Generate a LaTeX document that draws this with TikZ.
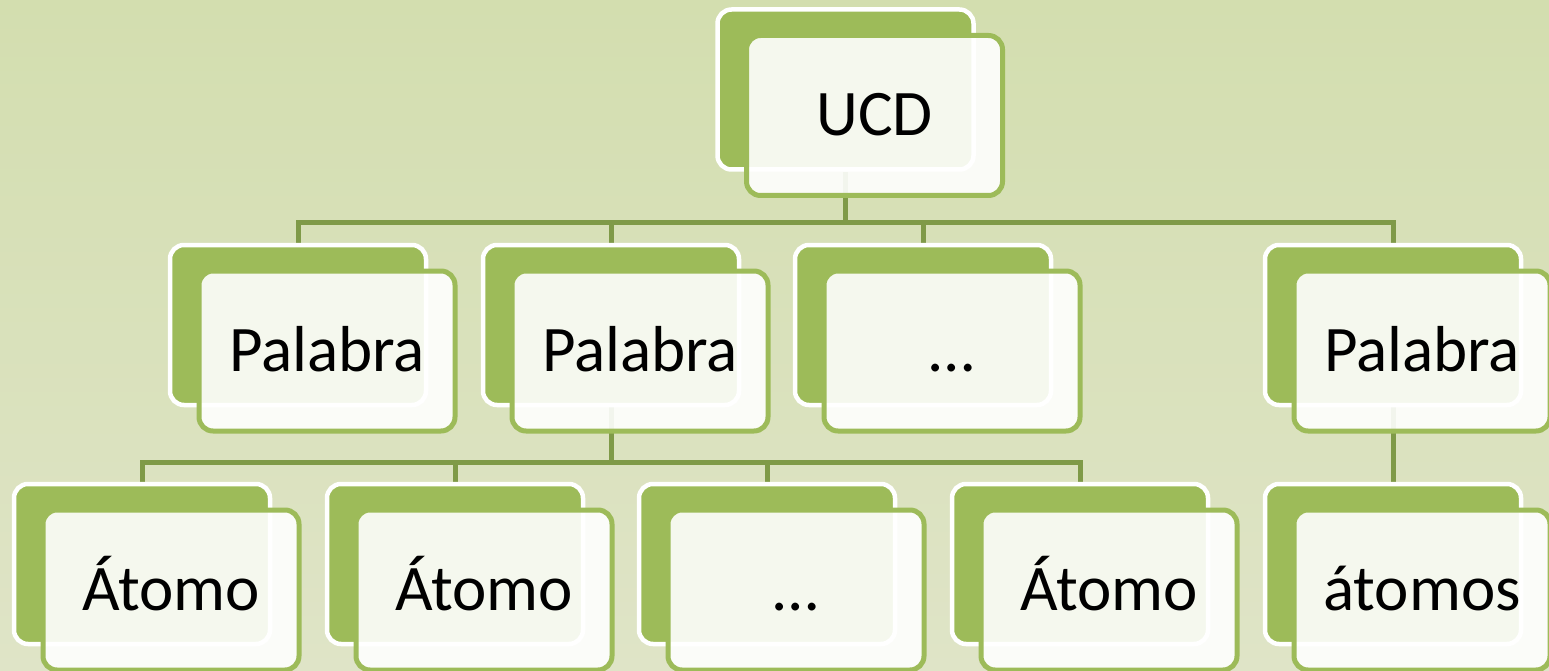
\documentclass[tikz,border=0pt]{standalone}
\usepackage{fontspec}
\setmainfont{Carlito}
\usetikzlibrary{calc}

\definecolor{bgtop}{RGB}{211,222,175}
\definecolor{bgbot}{RGB}{223,228,199}
\definecolor{leaf}{RGB}{157,187,89}
\definecolor{linkc}{RGB}{127,154,72}

\pgfdeclarelayer{canvas}
\pgfdeclarelayer{links}
\pgfsetlayers{canvas,links,main}

\tikzset{
  backbox/.style={draw=white, line width=4.5pt, fill=leaf, rounded corners=14pt,
    minimum width=256pt, minimum height=160pt, inner sep=0pt},
  frontbox/.style={draw=leaf, line width=5pt, fill=white, fill opacity=0.9,
    text opacity=1, rounded corners=14pt, minimum width=256pt,
    minimum height=160pt, inner sep=0pt,
    font=\fontsize{65}{72}\selectfont, text height=41pt, text depth=0pt},
  link/.style={draw=linkc, line width=5pt}
}

% a card: green back plate (name-b) with a light front plate (name) holding the text
\newcommand\leafcard[4]{%
  \node[backbox] (#1-b) at (#2,#3) {};
  \node[frontbox] (#1) at ({#2+29},{#3+26}) {#4};
}

\begin{document}
\begin{tikzpicture}[x=1pt,y=-1pt]
  \useasboundingbox (0,0) rectangle (1549,671);
  \begin{pgfonlayer}{canvas}
    \shade[top color=bgtop, bottom color=bgbot] (0,0) rectangle (1549,671);
  \end{pgfonlayer}

  % root
  \leafcard{ucd}{845.5}{89.5}{UCD}

  % words
  \leafcard{p1}{298}{325}{Palabra}
  \leafcard{p2}{611}{325}{Palabra}
  \leafcard{p3}{923}{325}{…}
  \leafcard{p4}{1393}{325}{Palabra}

  % atoms
  \leafcard{a1}{142}{564}{Átomo}
  \leafcard{a2}{455}{564}{Átomo}
  \leafcard{a3}{767}{564}{…}
  \leafcard{a4}{1080}{564}{Átomo}
  \leafcard{a5}{1393}{564}{átomos}

  \begin{pgfonlayer}{links}
    \path (ucd-b.south) ++(0,51) coordinate (j1);
    \draw[link] (ucd-b.south) -- (j1);
    \foreach \n in {p1,p2,p3,p4}
      \draw[link] (j1) -| (\n-b.north);

    \path (p2-b.south) ++(0,55) coordinate (j2);
    \draw[link] (p2-b.south) -- (j2);
    \foreach \n in {a1,a2,a3,a4}
      \draw[link] (j2) -| (\n-b.north);

    \draw[link] (p4-b.south) -- (a5-b.north);
  \end{pgfonlayer}
\end{tikzpicture}
\end{document}
